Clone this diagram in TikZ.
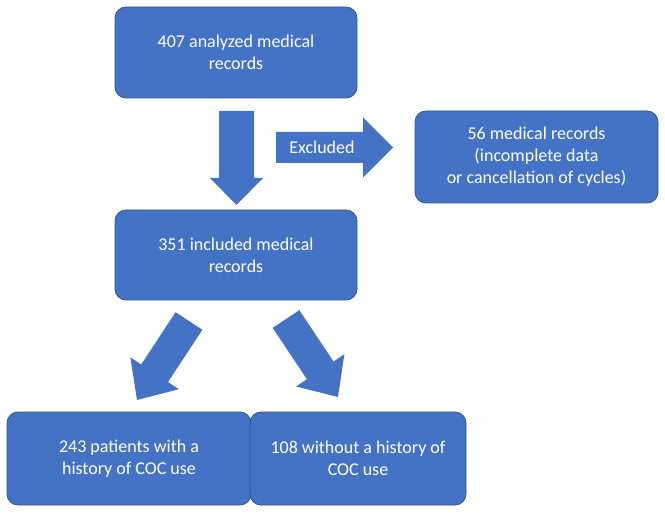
\documentclass[tikz,border=0pt]{standalone}
\usepackage{fontspec}
\setmainfont{Carlito}
\usetikzlibrary{calc}
\definecolor{bx}{HTML}{4472C4}
\definecolor{bd}{HTML}{2F5597}
\begin{document}
\begin{tikzpicture}[x=1pt,y=-1pt,
 box/.style={draw=bd,line width=0.8pt,fill=bx,rounded corners=11pt,text=white,align=center,font=\fontsize{18}{22}\selectfont,inner sep=0pt},
 arr/.style={fill=bx,draw=bx,line width=0.3pt}]
\useasboundingbox (0,0) rectangle (665,516);
\node[box,minimum width=242,minimum height=91] (a) at (236,52.5) {407 analyzed medical\\records};
\node[box,minimum width=243,minimum height=92] (e) at (536.5,157) {56 medical records\\(incomplete data\\or cancellation of cycles)};
\node[box,minimum width=242,minimum height=90] (b) at (236,255) {351 included medical\\records};
\node[box,minimum width=244,minimum height=93] (c) at (129,458.5) {243 patients with a\\history of COC use};
\node[box,minimum width=216,minimum height=93] (d) at (358,458.5) {108 without a history of\\COC use};
\newcommand{\fatarrow}[6]{% A, B, halfshaft, halfhead, headlen, name
 \coordinate (#6t) at #1; \coordinate (#6p) at #2;
 \coordinate (#6h) at ($(#6p)!#5pt!(#6t)$);
 \fill[bx] ($(#6t)!#3pt!90:(#6p)$) -- ($(#6h)!#3pt!-90:(#6t)$) -- ($(#6h)!#4pt!-90:(#6t)$) -- (#6p)
  -- ($(#6h)!#4pt!90:(#6t)$) -- ($(#6h)!#3pt!90:(#6t)$) -- ($(#6t)!#3pt!-90:(#6p)$) -- cycle;}
\fatarrow{(236.5,111)}{(236.5,205)}{17.5}{26.5}{27}{d1}
\fatarrow{(276,147.5)}{(393,147.5)}{15.5}{30}{30}{r1}
\fatarrow{(189,321)}{(137,400)}{16}{29}{32}{l1}
\fatarrow{(286,319)}{(338,397)}{16}{29}{32}{l2}
\node[text=white,font=\fontsize{18}{22}\selectfont] (x) at (322,147) {Excluded};
\end{tikzpicture}
\end{document}
